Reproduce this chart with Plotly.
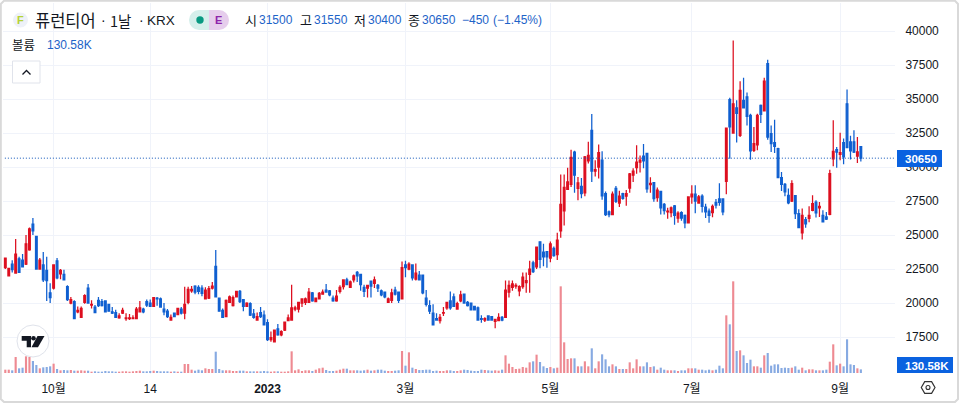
import plotly.graph_objects as go

opens = [22600,22000,22850,22200,23250,23150,22850,23900,25800,24900,22500,22800,22400,20750,21100,23100,22150,22100,21200,20000,
20100,19350,18950,20050,21100,19850,19700,20200,20100,20150,19900,19350,19300,18900,19250,18850,18850,18850,18850,19350,
19550,20100,20000,19750,20350,20300,19550,19400,18750,19250,19150,19550,19250,20050,20900,21250,21150,21100,20300,20350,
21100,22700,20350,19450,19000,20050,19800,20450,20850,20250,19750,19950,19200,18750,19300,19100,18550,17300,17150,18100,
17650,18000,18700,18750,19550,19550,
20000,20050,20050,20750,20100,20300,20650,20950,20900,20350,20150,20850,21200,21700,21150,21700,22250,22100,21150,21100,
21600,21450,21300,20900,20800,20050,20200,20950,20800,20300,22800,22500,22800,21750,22050,22050,20350,19800,19250,18850,
18700,19250,19650,20150,20450,19550,20150,20650,20050,20000,19750,19650,18850,18750,19050,19000,18650,18700,18950,18950,
20800,21150,21250,20900,21200,21500,22100,22950,22650,24500,23750,23770,23300,24020,23550,25300,26770,
28350,28730,31100,28430,28580,28100,30450,32700,29700,30000,30500,28050,26700,26500,28430,27350,28050,27850,28450,29400,
29950,30350,30800,31000,28700,28850,27750,28200,27250,26700,26650,27150,26250,26650,26450,25900,27800,28000,27350,27850,
27050,26750,26650,27400,27650,27650,28950,34950,32500,34350,32330,34900,35150,33800,31230,31620,34530,34120,37600,32450,
31790,31350,29220,28730,27920,27500,27900,26570,25150,26130,26230,26820,27410,26990,26450,26330,26520,30600,31270,30930,
31800,34650,31850,31850,30800,31500]
highs = [23350,22600,23150,24700,23400,23600,25000,25550,26250,24900,23300,23750,23400,21450,22850,23300,22500,22450,21300,20450,
20200,19750,19750,20650,21400,20200,19850,20450,20300,20200,19950,19700,19500,19250,19650,19250,19200,19100,19700,20150,
19650,20250,20250,20450,20450,20400,20000,19550,19150,19250,19600,19700,21200,21200,21250,21300,21300,21300,21150,21250,
21550,23900,20350,19600,20250,20550,20550,20900,20950,20250,20050,20050,19550,19300,19700,19450,18800,17900,18050,18450,
18000,18600,19150,21350,19800,20100,
20350,20400,21100,20800,20400,20800,21000,21400,20950,20550,20950,21300,21700,21850,21650,22100,22350,22100,21350,21300,
21650,21950,21400,21000,20800,20400,21050,21200,20800,23050,23100,23000,22850,22900,22350,22050,20950,20200,19900,19250,
19200,19700,20100,20850,20700,20100,20900,20700,20150,20000,19800,19750,19100,18950,19050,19000,18800,19250,19050,21650,
21650,21650,21450,21300,22250,22250,23100,23100,24100,24500,24350,23800,24530,24150,25170,29450,29450,
29950,31270,31200,29270,29200,30800,31850,33900,30500,31650,31150,28200,26800,28200,28600,28250,28100,28300,29550,29900,
31600,30850,31700,31050,29250,28900,28500,28200,27350,27000,27100,27200,26750,26750,26500,27850,28650,28650,27950,28000,
27300,26950,27250,27650,28800,27700,32850,35100,39300,34900,36300,36570,35470,33920,32940,33920,34600,36570,37890,33060,
33480,31420,29640,28830,28410,29020,27950,26900,26940,26330,27110,27920,27550,27430,26820,26700,29800,33430,31470,32520,
32100,35700,32300,32700,32200,31550]
lows = [22500,21950,22250,22200,22250,22650,22800,23850,25000,22500,22450,21550,20150,20000,21000,21750,21750,21650,20150,19900,
18800,19250,18900,19950,19950,19600,19300,19700,19750,19300,19350,19200,18900,18850,19200,18700,18750,18800,18800,19300,
19250,19700,19750,19750,19800,19650,19100,18900,18700,18950,19100,19150,18800,19900,20750,20650,20650,20500,20250,20300,
21000,20400,19350,18900,18950,20000,19750,20400,20000,19400,19700,19050,18850,18700,18900,18400,17200,17150,17100,17600,
17550,17950,18650,18700,19400,19300,
19700,19850,20000,20100,20050,20300,20600,20750,20500,20100,20100,20700,21000,21300,21100,21500,21550,20900,20450,20400,
20400,21100,20800,20500,20350,20000,20000,20550,20000,20250,21900,22400,21650,21650,21650,20650,19750,19200,18400,18700,
18500,19050,19500,19500,19700,19500,20050,20000,19750,19500,19450,18700,18550,18600,18750,18750,18150,18650,18650,18950,
20400,20900,21050,20500,21050,20750,20750,22200,22500,22550,22700,22600,23000,23400,23160,24800,25700,
28300,28530,28100,27550,27700,27850,30250,28900,29300,29150,27600,26400,26300,26500,27350,27050,27600,27150,28100,28900,
29500,29600,29900,28100,28100,27450,27450,26500,26500,26200,26300,25750,25900,26050,25500,25850,27300,26600,27300,26650,
26250,25900,26300,26950,27150,26450,28000,30600,32450,31800,32200,34300,33060,30540,31100,31230,33240,34100,32000,31100,
31030,29200,28240,27850,27260,27430,26180,25540,24660,25540,25940,26750,26280,26330,25960,26100,26450,30050,29950,30500,
30200,31400,30550,31030,30300,30400]
closes = [23300,22550,22450,23600,22250,22650,24350,25450,25300,22500,23150,21700,21650,20400,22800,21850,22400,21700,20250,20250,
18850,19450,19600,20550,20000,19900,19300,19800,19800,19350,19400,19250,18950,19050,19450,18900,18900,18900,19550,19650,
19350,19850,19750,20400,20300,19700,19350,19000,18950,19000,19600,19250,19900,21000,21000,20800,20850,20700,20950,21050,
21250,20450,19400,18950,20200,20450,20400,20850,20100,19750,20000,19100,18950,19000,19000,18400,17300,17450,18000,17650,
17900,18600,18900,19650,19650,20050,
20300,20300,20800,20150,20350,20700,20800,20800,20600,20150,20500,21150,21700,21350,21550,22000,22000,21350,20850,21300,
21250,21700,21100,20600,20450,20300,20750,20650,20200,22600,22600,22850,21850,22200,21700,20750,19900,19400,18400,18750,
18950,19300,20050,19650,19750,19950,20600,20000,19800,19500,19500,18750,18800,18850,18750,18750,18800,18950,18750,20950,
21300,21400,21300,21200,21900,21650,22500,22300,24100,23200,23400,23400,24340,23480,24630,27250,28500,
28900,30700,29400,28830,28040,30750,30850,29700,29800,31050,27870,26500,26500,28000,27480,27850,27700,28050,29500,29700,
30350,30500,30450,28400,28800,27670,28300,27000,26800,26750,27000,26450,26600,26250,25900,27800,28000,27500,27800,27100,
26700,26450,27100,27200,27400,26700,32850,32950,34650,33950,35640,34340,33730,31180,31720,33800,33870,36320,32200,31720,
31520,29220,28730,28170,27360,28780,26570,25540,26450,25810,26450,27310,26620,27110,25960,26160,29510,31150,31100,31050,
30750,31430,31180,31100,31120,30650]
volumes_k = [120,120,96,576,168,192,600,576,432,288,168,204,216,240,336,144,96,108,96,108,84,84,96,84,84,48,60,48,48,72,60,60,48,48,60,60,48,60,72,84,60,60,72,84,72,60,60,60,48,60,48,48,324,324,120,84,120,96,168,144,144,768,144,96,96,96,72,72,84,84,60,60,60,60,60,72,60,48,60,60,48,48,60,780,96,132,
72,96,96,72,120,168,192,108,72,72,84,120,156,156,96,96,96,84,96,120,84,96,120,120,84,72,72,84,96,
792,264,744,192,144,108,108,120,120,72,84,72,72,96,96,72,72,96,120,108,84,72,72,120,108,96,84,96,84,120,
636,336,216,144,156,216,192,384,420,660,396,240,180,216,168,192,3120,1104,504,528,528,240,
240,420,240,888,168,420,672,492,240,312,240,144,144,144,384,168,492,240,240,384,216,240,120,192,120,96,96,96,72,96,96,168,168,168,120,120,96,120,96,
120,264,168,2076,1752,3300,792,816,636,360,480,240,240,192,636,720,264,312,312,180,192,180,192,240,120,192,96,132,132,96,96,96,120,408,1032,276,336,240,1212,312,288,168,130.58]
time_tick_positions = [14, 42, 76, 116, 158, 199, 242]
time_tick_labels = ["10월", "14", "<b>2023</b>", "3월", "5월", "7월", "9월"]
price_ticks = [17500, 20000, 22500, 25000, 27500, 30000, 32500, 35000, 37500, 40000]
last_price = 30650
last_volume_label = "130.58K"
legend_open = "31500"
legend_high = "31550"
legend_low = "30400"
legend_close = "30650"
legend_change = "−450"
legend_pct = "(−1.45%)"

UP = "#dd0f1f"
DOWN = "#0f5fd0"
UP_VOL = "#ee8a92"
DOWN_VOL = "#87aae2"
ACCENT = "#0a62e0"
TEXT = "#131722"
GRID = "#f0f3fa"
VALUE = "#1d63c8"
FONT = "Liberation Sans, Noto Sans CJK KR, sans-serif"
CJK = "Noto Sans CJK KR, sans-serif"

W, H = 960, 404
L, R, T, B = 3, 895, 3, 374


def px(x):
    return (x - L) / (R - L)


def py(y):
    return (B - y) / (B - T)


def path_of(points, close=False):
    d = "M" + " L".join(f"{px(a):.5f},{py(b):.5f}" for a, b in points)
    return d + (" Z" if close else "")


xs = list(range(len(closes)))
vol_colors = [UP_VOL if c >= o else DOWN_VOL for o, c in zip(opens, closes)]

fig = go.Figure()
fig.add_trace(go.Bar(x=xs, y=volumes_k, yaxis="y2", marker=dict(color=vol_colors, line_width=0),
                     width=0.62, showlegend=False, hoverinfo="skip"))
fig.add_trace(go.Candlestick(x=xs, open=opens, high=highs, low=lows, close=closes,
                             increasing=dict(line=dict(color=UP, width=1.25), fillcolor=UP),
                             decreasing=dict(line=dict(color=DOWN, width=1.25), fillcolor=DOWN),
                             whiskerwidth=0, showlegend=False, hoverinfo="skip"))

shapes = []
annotations = []


def rect(x0, y0, x1, y1, fill, line=None, lw=1):
    shapes.append(dict(type="rect", xref="paper", yref="paper", x0=px(x0), x1=px(x1), y0=py(y1), y1=py(y0),
                       fillcolor=fill, line=dict(color=line or fill, width=lw if line else 0), layer="above"))


def circle(cx, cy, r, fill, line=None, lw=1):
    shapes.append(dict(type="circle", xref="paper", yref="paper", x0=px(cx - r), x1=px(cx + r), y0=py(cy + r),
                       y1=py(cy - r), fillcolor=fill, line=dict(color=line or fill, width=lw if line else 0),
                       layer="above"))


def poly(points, fill=None, line=None, lw=1, close=True):
    shapes.append(dict(type="path", xref="paper", yref="paper", path=path_of(points, close),
                       fillcolor=fill if fill else "rgba(0,0,0,0)",
                       line=dict(color=line or "rgba(0,0,0,0)", width=lw if line else 0), layer="above"))


def text(x, y, s, size=12, color=TEXT, anchor="left", family=FONT):
    annotations.append(dict(xref="paper", yref="paper", x=px(x), y=py(y), text=s, showarrow=False, xanchor=anchor,
                            yanchor="middle", font=dict(size=size, color=color, family=family),
                            borderpad=0, borderwidth=0))


# Last price line
shapes.append(dict(type="line", xref="x", yref="y", x0=-1, x1=258, y0=last_price, y1=last_price,
                   line=dict(color="#0b52b8", width=1, dash="1px,2px"), layer="above"))

# Right-side price and volume labels
rect(897, 150, 942, 167, ACCENT)
text(920.5, 158.5, f"<b>{last_price}</b>", size=11.5, color="#ffffff", anchor="center")
rect(897, 357, 953, 373, ACCENT)
text(926.5, 365.5, f"<b>{last_volume_label}</b>", size=11.5, color="#ffffff", anchor="center")

# Header
circle(20.5, 20, 7.5, "#eef1f8")
text(20.5, 20.5, "<b>F</b>", size=11, color="#b5d334", anchor="center")
text(34.5, 20, "퓨런티어", size=16.5, family=CJK)
text(101, 20, "·", size=14)
text(110, 20, "1날", size=14.5, family=CJK)
text(138.5, 20, "·", size=14)
text(147, 20.5, "KRX", size=13.5)
rect(199, 10, 209, 30, "#d5efeb")
circle(199, 20, 10, "#d5efeb")
rect(209, 10, 219, 30, "#e6cdec")
circle(219, 20, 10, "#e6cdec")
circle(200, 20, 3.7, "#089981")
text(218, 20.5, "<b>E</b>", size=11, color="#8e24aa", anchor="center")
for label, x in (("시", 245), ("고", 300), ("저", 354), ("종", 408)):
    text(x, 19.5, label, size=13, family=CJK)
for value, x in ((legend_open, 259), (legend_high, 314), (legend_low, 368), (legend_close, 422),
                 (legend_change, 462), (legend_pct, 492.5)):
    text(x, 20.5, value, size=12, color=VALUE)
text(12, 44.5, "볼륨", size=12.5, family=CJK)
text(46.5, 44.5, last_volume_label, size=12, color=VALUE)

# Collapse button
shapes.append(dict(type="rect", xref="paper", yref="paper", x0=px(12.5), x1=px(40), y0=py(83), y1=py(61),
                   fillcolor="#ffffff", line=dict(color="#e0e3eb", width=1), layer="above"))
poly([(22.5, 74.5), (26.5, 70.5), (30.5, 74.5)], line=TEXT, lw=1.3, close=False)

# Watermark logo
circle(33, 341, 16, "#ffffff", line="#e0e3eb", lw=1)
poly([(21.7, 336), (31, 336), (31, 347.3), (26.7, 347.3), (26.7, 340.7), (21.7, 340.7)], fill="#131722")
circle(33.5, 338.3, 2.3, "#131722")
poly([(37.5, 336), (44.5, 336), (38, 347.3), (31.5, 347.3)], fill="#131722")

# Settings icon
poly([(921.3, 387.5), (924.7, 381.7), (931.6, 381.7), (935, 387.5), (931.6, 393.3), (924.7, 393.3)], line="#333333", lw=1.2)
circle(928, 387.5, 2, "#ffffff", line="#333333", lw=1.1)

# Outer frame
shapes.append(dict(type="path", xref="paper", yref="paper", layer="above",
                   path=path_of([(0.8, 4), (4, 0.8), (955, 0.8), (958, 4), (958, 399), (955, 402), (4, 402), (0.8, 399)], True),
                   fillcolor="rgba(0,0,0,0)", line=dict(color="#d9d9d9", width=2)))

fig.update_layout(
    width=W, height=H, margin=dict(l=L, r=W - R, t=T, b=H - B, pad=0),
    paper_bgcolor="#ffffff", plot_bgcolor="#ffffff", font=dict(family=FONT, size=12, color=TEXT),
    hovermode=False, showlegend=False, barmode="overlay", shapes=shapes, annotations=annotations,
    xaxis=dict(range=[-0.67, 257.9], rangeslider=dict(visible=False), tickmode="array",
               tickvals=time_tick_positions, ticktext=time_tick_labels, showgrid=True, gridcolor=GRID,
               gridwidth=1, zeroline=False, showline=False, ticks="outside", ticklen=4,
               tickcolor="rgba(0,0,0,0)", tickfont=dict(size=12, color=TEXT, family=FONT)),
    yaxis=dict(range=[14779, 42059], side="right", tickmode="array", tickvals=price_ticks,
               ticktext=[str(t) for t in price_ticks], showgrid=True, gridcolor=GRID, gridwidth=1,
               zeroline=False, showline=False, ticks="outside", ticklen=7, tickcolor="rgba(0,0,0,0)",
               tickfont=dict(size=12, color=TEXT, family=FONT)),
    yaxis2=dict(range=[-36, 13320], overlaying="y", visible=False, fixedrange=True),
)

fig.write_html("out.html", config=dict(displayModeBar=False, staticPlot=True),
               post_script="document.body.style.margin='0';document.body.style.overflow='hidden';")
